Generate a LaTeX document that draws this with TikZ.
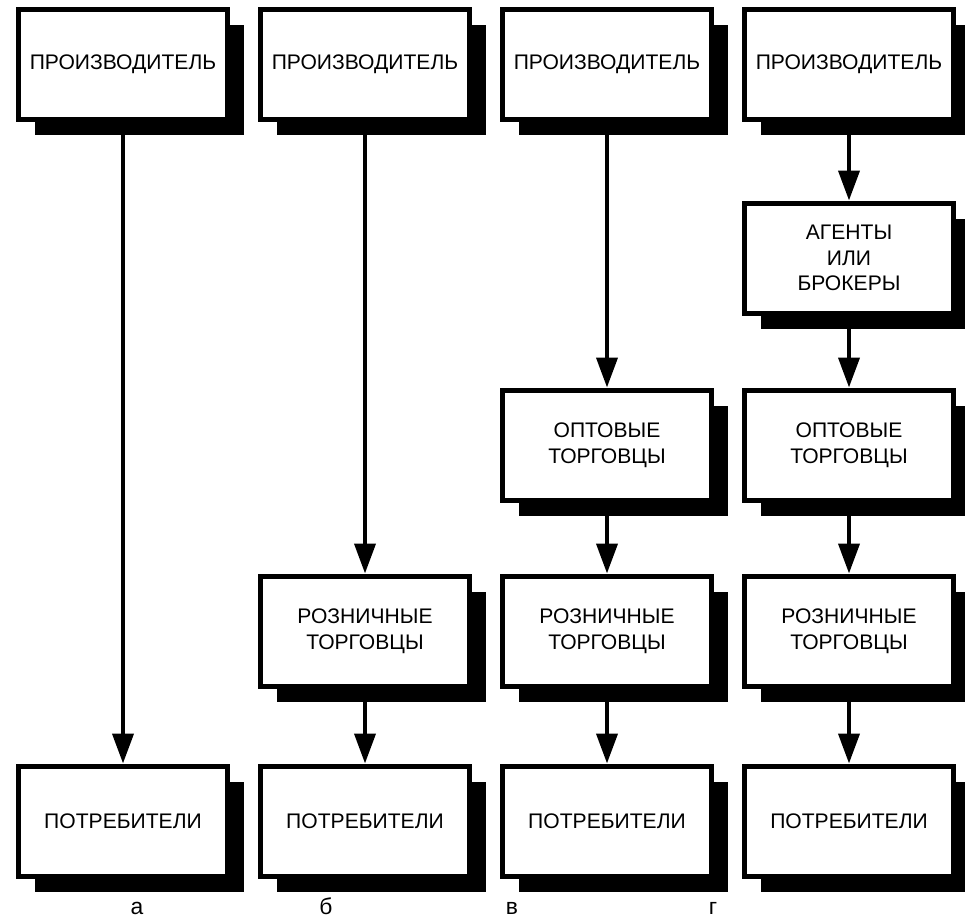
\documentclass[tikz,border=0pt]{standalone}
\usepackage{fontspec}
\setsansfont{Liberation Sans}
\usetikzlibrary{positioning, shadows, arrows.meta}

\begin{document}
\begin{tikzpicture}[
  node distance=1.5cm and 0.56cm,
  box/.style={rectangle, draw=black, line width=0.1cm, fill=white, minimum width=4.18cm,
              minimum height=2.2cm, align=center, font=\sffamily\fontsize{12}{14.5}\selectfont,
              drop shadow={shadow xshift=0.32cm, shadow yshift=-0.32cm, fill=black, opacity=1}},
  arrow/.style={-{Triangle[length=0.6cm, width=0.42cm]}, line width=0.08cm},
  tag/.style={font=\sffamily\fontsize{13}{15}\selectfont, anchor=base}
]
\useasboundingbox (0,0) rectangle (19.3,-18.46);

% Producers
\node[box] (proda) at (2.46,-1.28) {ПРОИЗВОДИТЕЛЬ};
\node[box, right=of proda] (prodb) {ПРОИЗВОДИТЕЛЬ};
\node[box, right=of prodb] (prodc) {ПРОИЗВОДИТЕЛЬ};
\node[box, right=of prodc] (prodd) {ПРОИЗВОДИТЕЛЬ};

% Agents
\node[box, below=1.58cm of prodd] (agentd) {АГЕНТЫ\\ИЛИ\\БРОКЕРЫ};

% Wholesalers
\node[box, below=1.44cm of agentd] (whld) {ОПТОВЫЕ\\ТОРГОВЦЫ};
\node[box, left=of whld] (whlc) {ОПТОВЫЕ\\ТОРГОВЦЫ};

% Retailers
\node[box, below=1.42cm of whld] (retd) {РОЗНИЧНЫЕ\\ТОРГОВЦЫ};
\node[box, left=of retd] (retc) {РОЗНИЧНЫЕ\\ТОРГОВЦЫ};
\node[box, left=of retc] (retb) {РОЗНИЧНЫЕ\\ТОРГОВЦЫ};

% Consumers
\node[box, below=of retd] (consd) {ПОТРЕБИТЕЛИ};
\node[box, left=of consd] (consc) {ПОТРЕБИТЕЛИ};
\node[box, left=of consc] (consb) {ПОТРЕБИТЕЛИ};
\node[box, left=of consb] (consa) {ПОТРЕБИТЕЛИ};

% Tags
\node[tag] (taga) at (2.74,-18.28) {а};
\node[tag] (tagb) at (6.52,-18.28) {б};
\node[tag] (tagc) at (10.24,-18.28) {в};
\node[tag] (tagd) at (14.26,-18.28) {г};

% Edges
\draw[arrow] (proda) -- (consa);
\draw[arrow] (prodb) -- (retb);
\draw[arrow] (retb) -- (consb);
\draw[arrow] (prodc) -- (whlc);
\draw[arrow] (whlc) -- (retc);
\draw[arrow] (retc) -- (consc);
\draw[arrow] (prodd) -- (agentd);
\draw[arrow] (agentd) -- (whld);
\draw[arrow] (whld) -- (retd);
\draw[arrow] (retd) -- (consd);
\end{tikzpicture}
\end{document}
